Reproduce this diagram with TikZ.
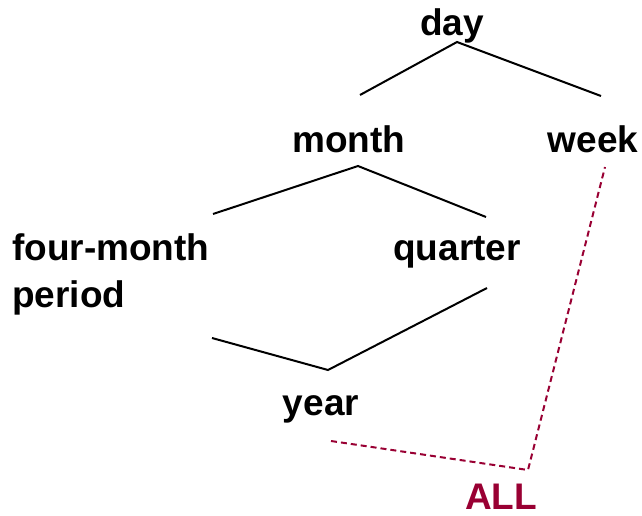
\documentclass[tikz,border=0pt]{standalone}
\usepackage{fontspec}
\setmainfont{Liberation Sans}

\definecolor{allred}{RGB}{153,0,51}

\begin{document}
\begin{tikzpicture}[x=1pt, y=-1pt] % one unit = one pixel, y runs down

    % Styles
    \tikzset{
        lvl/.style={font=\fontsize{37}{47}\selectfont\bfseries, anchor=base, inner sep=0pt},
        edge/.style={line width=2pt},
        topedge/.style={allred, line width=2pt, dash pattern=on 6pt off 4pt}
    }

    \useasboundingbox (0,0) rectangle (642,516);

    % Levels of the time dimension
    \node[lvl] (day) at (452,36) {day};
    \node[lvl] (month) at (349,153) {month};
    \node[lvl] (week) at (593,153) {week};
    \node[lvl, anchor=base west, align=left] (fourmonth) at (12,307) {four-month\\period};
    \node[lvl] (quarter) at (457,260) {quarter};
    \node[lvl] (year) at (321,415) {year};
    \node[lvl, text=allred] (all) at (501,509) {ALL};

    % Ends of the edges
    \coordinate (day-j) at (457,42);
    \coordinate (month-t) at (360,95);
    \coordinate (week-t) at (601,96);
    \coordinate (month-j) at (358,166);
    \coordinate (fourmonth-t) at (213,214);
    \coordinate (quarter-t) at (486,217);
    \coordinate (fourmonth-j) at (212,338);
    \coordinate (year-t) at (328,370);
    \coordinate (quarter-j) at (487,288);
    \coordinate (year-j) at (331,441);
    \coordinate (all-t) at (528,470);
    \coordinate (week-j) at (605,167);

    % Edges
    \draw[edge] (month-t) -- (day-j) -- (week-t);
    \draw[edge] (fourmonth-t) -- (month-j) -- (quarter-t);
    \draw[edge] (fourmonth-j) -- (year-t) -- (quarter-j);

    % Edges to ALL
    \draw[topedge] (year-j) -- (all-t) -- (week-j);

\end{tikzpicture}
\end{document}
